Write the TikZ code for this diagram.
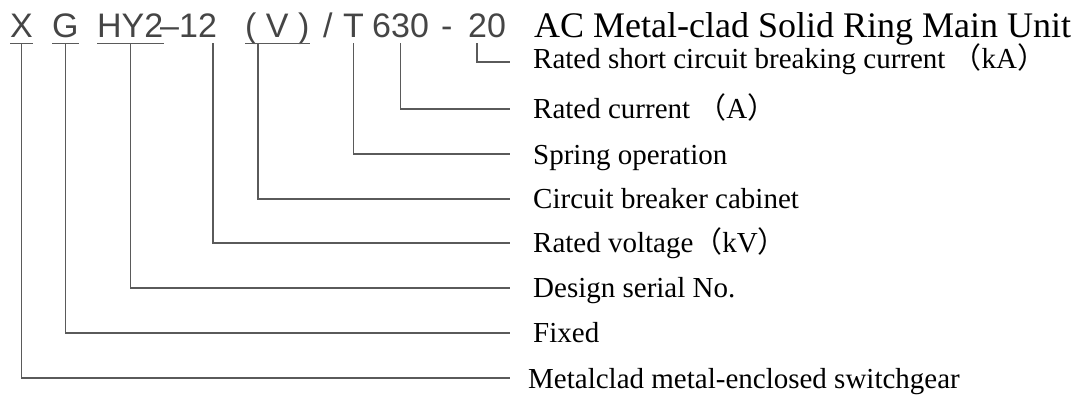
\documentclass[tikz,border=0pt]{standalone}
\usepackage{fontspec}
\setmainfont{Liberation Serif}
\newfontfamily\codefont{Liberation Sans}
\newfontfamily\cjk{Noto Sans CJK SC}
\definecolor{codegray}{HTML}{454545}
\definecolor{linegray}{HTML}{5A5A5A}

\begin{document}
\begin{tikzpicture}[x=1pt, y=-1pt,
    code/.style={anchor=base west, inner xsep=0pt, inner ysep=6pt, text depth=0pt,
                 text=codegray, font=\codefont\fontsize{34}{36}\selectfont},
    lbl/.style={anchor=base west, inner sep=0pt, text=black, font=\fontsize{29}{32}\selectfont},
    lead/.style={draw=linegray, line width=1.3pt}]
    \useasboundingbox (0,0) rectangle (1079,394);
    % model code
    \node[code] (cX) at (10,37) {X};
    \node[code] (cG) at (52,37) {G};
    \node[code] (cHY) at (97,37) {HY2};
    \node[code] (cTwelve) at (160,37) {–12};
    \node[code] (cV) at (245,37) {( V )};
    \node[code] (cSlash) at (323,37) {/};
    \node[code] (cT) at (343,37) {T};
    \node[code] (cI) at (372,37) {630};
    \node[code] (cDash) at (441,37) {-};
    \node[code] (cK) at (468,37) {20};
    \node[anchor=base west, inner sep=0pt, text=black, font=\fontsize{36}{40}\selectfont]
        (title) at (534,37) {AC Metal-clad Solid Ring Main Unit};
    \foreach \n in {cX,cG,cHY,cV}
        \draw[lead] (\n.south west) -- (\n.south east);
    % line ends
    \coordinate (eBreak) at (510,62);
    \coordinate (eCurr) at (510,109);
    \coordinate (eSpring) at (510,154);
    \coordinate (eCab) at (510,199);
    \coordinate (eVolt) at (510,243);
    \coordinate (eDesign) at (510,288);
    \coordinate (eFixed) at (510,333);
    \coordinate (eMetal) at (510,378);
    % meanings
    \node[lbl] (lBreak) at (533,68) {Rated short circuit breaking current {\cjk （}kA{\cjk ）}};
    \node[lbl] (lCurr) at (533,118) {Rated current {\cjk （}A{\cjk ）}};
    \node[lbl] (lSpring) at (533,164) {Spring operation};
    \node[lbl] (lCab) at (533,208) {Circuit breaker cabinet};
    \node[lbl] (lVolt) at (533,252) {Rated voltage{\cjk （}kV{\cjk ）}};
    \node[lbl] (lDesign) at (533,297) {Design serial No.};
    \node[lbl] (lFixed) at (533,342) {Fixed};
    \node[lbl] (lMetal) at (528,388) {Metalclad metal-enclosed switchgear};
    % leaders
    \draw[lead] (cX.south) |- (eMetal);
    \draw[lead] (cG.south) |- (eFixed);
    \draw[lead] (cHY.south) |- (eDesign);
    \draw[lead] ([xshift=-4pt]cTwelve.south east) |- (eVolt);
    \draw[lead] ([xshift=13pt]cV.south west) |- (eCab);
    \draw[lead] (cT.south) |- (eSpring);
    \draw[lead] (cI.south) |- (eCurr);
    \draw[lead] ([xshift=9pt]cK.south west) |- (eBreak);
\end{tikzpicture}
\end{document}
